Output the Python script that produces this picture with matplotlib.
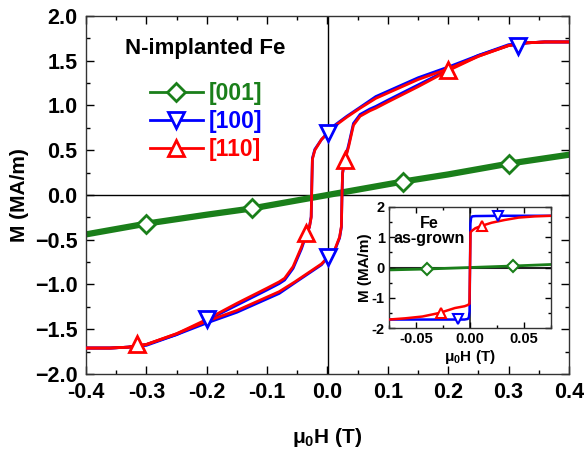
import numpy as np
import matplotlib
matplotlib.use("Agg")
import matplotlib.pyplot as plt
from matplotlib.lines import Line2D
from matplotlib.ticker import MultipleLocator

plt.rcParams['font.family'] = ['Liberation Sans', 'DejaVu Sans']
plt.rcParams['font.weight'] = 'bold'
plt.rcParams['mathtext.fontset'] = 'custom'
plt.rcParams['mathtext.rm'] = 'Liberation Sans:bold'
plt.rcParams['mathtext.bf'] = 'Liberation Sans:bold'
plt.rcParams['mathtext.it'] = 'Liberation Sans:bold'

GREEN = '#1a7f1a'
BLUE = '#0000ff'
RED = '#ff0000'

# ---- main panel: N-implanted Fe ----
# [110] red, descending branch (+H -> -H)
h110_dn = [0.40, 0.36, 0.33, 0.30, 0.25, 0.20, 0.15, 0.10, 0.08, 0.054, 0.032, 0.010, 0.0, -0.010,
           -0.021, -0.025, -0.026, -0.027, -0.030, -0.035, -0.043, -0.057, -0.071, -0.08, -0.10,
           -0.15, -0.20, -0.25, -0.30, -0.33, -0.36, -0.40]
m110_dn = [1.71, 1.71, 1.70, 1.67, 1.55, 1.41, 1.29, 1.14, 1.08, 0.97, 0.87, 0.76, 0.69, 0.62,
           0.50, 0.40, 0.10, -0.25, -0.36, -0.43, -0.58, -0.80, -0.93, -0.97, -1.04,
           -1.21, -1.39, -1.55, -1.67, -1.70, -1.71, -1.71]
# [110] red, ascending branch
h110_up = [-0.40, -0.36, -0.33, -0.30, -0.25, -0.20, -0.15, -0.10, -0.08, -0.054, -0.032, -0.010, 0.0,
           0.012, 0.020, 0.023, 0.024, 0.025, 0.027, 0.029, 0.035, 0.043, 0.054, 0.070, 0.08,
           0.10, 0.15, 0.20, 0.25, 0.30, 0.33, 0.36, 0.40]
m110_up = [-1.71, -1.71, -1.70, -1.67, -1.55, -1.41, -1.29, -1.14, -1.08, -0.97, -0.87, -0.77, -0.70,
           -0.61, -0.47, -0.35, 0.0, 0.25, 0.33, 0.39, 0.54, 0.78, 0.88, 0.94, 0.97,
           1.04, 1.21, 1.39, 1.55, 1.67, 1.70, 1.71, 1.71]
# [100] blue
h100_dn = [0.40, 0.36, 0.33, 0.30, 0.25, 0.20, 0.15, 0.10, 0.08, 0.054, 0.032, 0.010, 0.0, -0.010,
           -0.021, -0.025, -0.026, -0.027, -0.030, -0.035, -0.043, -0.057, -0.071, -0.08, -0.10,
           -0.15, -0.20, -0.25, -0.30, -0.33, -0.36, -0.40]
m100_dn = [1.71, 1.71, 1.70, 1.68, 1.56, 1.43, 1.31, 1.16, 1.10, 0.98, 0.88, 0.77, 0.69, 0.62,
           0.51, 0.41, 0.11, -0.24, -0.36, -0.44, -0.60, -0.82, -0.95, -0.99, -1.06,
           -1.23, -1.40, -1.56, -1.67, -1.70, -1.71, -1.71]
h100_up = [-0.40, -0.36, -0.33, -0.30, -0.25, -0.20, -0.15, -0.10, -0.08, -0.054, -0.032, -0.010, 0.0,
           0.012, 0.020, 0.023, 0.024, 0.025, 0.027, 0.029, 0.035, 0.043, 0.054, 0.070, 0.08,
           0.10, 0.15, 0.20, 0.25, 0.30, 0.33, 0.36, 0.40]
m100_up = [-1.71, -1.71, -1.70, -1.68, -1.56, -1.43, -1.31, -1.16, -1.10, -0.98, -0.88, -0.78, -0.70,
           -0.62, -0.48, -0.36, -0.01, 0.24, 0.33, 0.40, 0.56, 0.80, 0.90, 0.96, 0.99,
           1.06, 1.23, 1.40, 1.56, 1.67, 1.70, 1.71, 1.71]
# [001] green
h001 = [-0.40, -0.30, -0.20, -0.125, 0.0, 0.125, 0.20, 0.30, 0.40]
m001 = [-0.44, -0.32, -0.22, -0.15, 0.0, 0.15, 0.23, 0.35, 0.45]

# marker positions (main)
mk001_h = [-0.30, -0.125, 0.125, 0.30]
mk001_m = [-0.32, -0.15, 0.15, 0.35]
mk100_h = [-0.20, 0.0, 0.0, 0.315]
mk100_m = [-1.39, -0.69, 0.69, 1.67]
mk110_h = [-0.315, -0.035, 0.029, 0.20]
mk110_m = [-1.67, -0.43, 0.39, 1.40]

# ---- inset: Fe as-grown ----
hi100 = [0.075, 0.03, 0.005, 0.002, 0.001, 0.0004, 0.0, -0.0004, -0.001, -0.002, -0.005, -0.03, -0.075]
mi100 = [1.71, 1.71, 1.70, 1.69, 1.64, 1.45, 0.0, -1.45, -1.64, -1.70, -1.72, -1.72, -1.72]
hi110 = [0.075, 0.06, 0.045, 0.032, 0.02, 0.011, 0.005, 0.002, 0.0005, 0.0, -0.0005, -0.002,
         -0.005, -0.014, -0.028, -0.044, -0.06, -0.075]
mi110 = [1.71, 1.69, 1.65, 1.57, 1.48, 1.38, 1.30, 1.22, 1.17, 0.0, -1.20, -1.24,
         -1.28, -1.34, -1.50, -1.62, -1.68, -1.72]
hi001 = [-0.075, -0.04, 0.0, 0.04, 0.075]
mi001 = [-0.08, -0.05, 0.0, 0.05, 0.10]
mki001_h = [-0.040, 0.040]
mki001_m = [-0.05, 0.05]
mki100_h = [-0.011, 0.026]
mki100_m = [-1.70, 1.70]
mki110_h = [-0.027, 0.011]
mki110_m = [-1.50, 1.38]

fig = plt.figure(figsize=(5.86, 4.51), dpi=100)
ax = fig.add_axes([86/586, 1-374/451, 483/586, 358/451])

ax.axhline(0, color='black', lw=1, zorder=1)
ax.axvline(0, color='black', lw=1, zorder=1)

ax.plot(h001, m001, color=GREEN, lw=4.5, zorder=2)
ax.plot(h100_dn, m100_dn, color=BLUE, lw=2, zorder=3)
ax.plot(h100_up, m100_up, color=BLUE, lw=2, zorder=3)
ax.plot(h110_dn, m110_dn, color=RED, lw=2, zorder=4)
ax.plot(h110_up, m110_up, color=RED, lw=2, zorder=4)

mkw = dict(ms=11, mew=2, mfc='white', ls='none', zorder=5)
ax.plot(mk001_h, mk001_m, marker='D', mec=GREEN, **dict(mkw, ms=9.5))
ax.plot(mk100_h, mk100_m, marker='v', mec=BLUE, **mkw)
ax.plot(mk110_h, mk110_m, marker='^', mec=RED, **mkw)

ax.set_xlim(-0.4, 0.4)
ax.set_ylim(-2.0, 2.0)
ax.xaxis.set_minor_locator(MultipleLocator(0.05))
ax.yaxis.set_major_locator(MultipleLocator(0.5))
ax.yaxis.set_minor_locator(MultipleLocator(0.25))
ax.tick_params(which='both', direction='in', top=True, right=True, labelsize=15.5, width=1)
ax.tick_params(which='major', length=6, pad=6)
ax.tick_params(which='minor', length=3)
ax.set_xticks(np.arange(-0.4, 0.41, 0.1))
ax.set_xticklabels(['-0.4', '-0.3', '-0.2', '-0.1', '0.0', '0.1', '0.2', '0.3', '0.4'])
for s in ax.spines.values():
    s.set_linewidth(1)
    s.set_color('#333333')

ax.set_ylabel('M (MA/m)', fontsize=15, fontweight='bold', labelpad=4.5)
ax.set_xlabel(r'$\mathregular{\mu_0}$H (T)', fontsize=15, fontweight='bold', labelpad=16)

ax.text(-0.203, 1.64, 'N-implanted Fe', fontsize=16, fontweight='bold', ha='center', va='center')

handles = [Line2D([], [], color=GREEN, lw=2, marker='D', ms=9.5, mew=2, mfc='white', mec=GREEN),
           Line2D([], [], color=BLUE, lw=2, marker='v', ms=11, mew=2, mfc='white', mec=BLUE),
           Line2D([], [], color=RED, lw=2, marker='^', ms=11, mew=2, mfc='white', mec=RED)]
leg = ax.legend(handles, ['[001]', '[100]', '[110]'], loc='upper left',
                bbox_to_anchor=(0.1325, 0.815), frameon=False, handlelength=2.3,
                handletextpad=0.28, labelspacing=0.22, numpoints=1, borderpad=0,
                borderaxespad=0, prop={'weight': 'bold', 'size': 16.5})
for t, c in zip(leg.get_texts(), [GREEN, BLUE, RED]):
    t.set_color(c)

# inset
axi = fig.add_axes([389/586, 1-328/451, 162/586, 121/451])
axi.axhline(0, color='#222222', lw=1.5, zorder=1)
axi.axvline(0, color='#222222', lw=1.2, zorder=1)
axi.plot(hi001, mi001, color=GREEN, lw=2, zorder=2)
axi.plot(hi100, mi100, color=BLUE, lw=1.8, zorder=3)
axi.plot(hi110, mi110, color=RED, lw=1.8, zorder=4)
mki = dict(ms=7.5, mew=1.5, mfc='white', ls='none', zorder=5)
axi.plot(mki001_h, mki001_m, marker='D', mec=GREEN, **dict(mki, ms=6.5))
axi.plot(mki100_h, mki100_m, marker='v', mec=BLUE, **mki)
axi.plot(mki110_h, mki110_m, marker='^', mec=RED, **mki)
axi.set_xlim(-0.075, 0.075)
axi.set_ylim(-2, 2)
axi.set_xticks([-0.05, 0.0, 0.05])
axi.set_xticklabels(['-0.05', '0.00', '0.05'])
axi.xaxis.set_minor_locator(MultipleLocator(0.025))
axi.set_yticks([-2, -1, 0, 1, 2])
axi.set_yticklabels(['-2', '-1', '0', '1', '2'])
axi.yaxis.set_minor_locator(MultipleLocator(0.5))
axi.tick_params(which='both', direction='in', top=True, right=True, labelsize=10.5, width=1)
axi.tick_params(which='major', length=4, pad=3)
axi.tick_params(which='minor', length=2)
for s in axi.spines.values():
    s.set_linewidth(1)
    s.set_color('#333333')
axi.set_ylabel('M (MA/m)', fontsize=11, fontweight='bold', labelpad=0)
axi.set_xlabel(r'$\mathregular{\mu_0}$H (T)', fontsize=11, fontweight='bold', labelpad=1)
axi.text(-0.0375, 1.2, 'Fe\nas-grown', fontsize=11.5, fontweight='bold', ha='center', va='center',
         linespacing=0.95)

fig.savefig('out.png', dpi=100)
